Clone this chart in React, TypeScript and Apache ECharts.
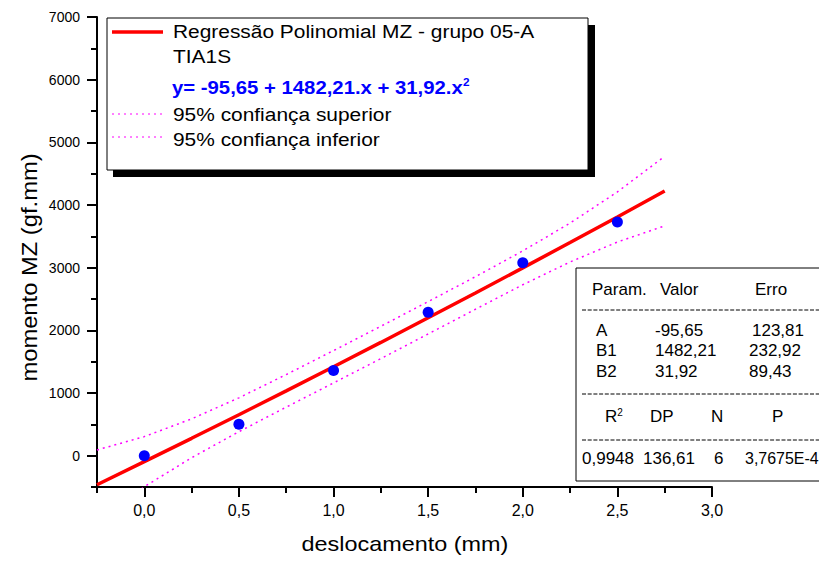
import React, { useEffect, useRef } from "react";
import * as echarts from "echarts";

// measured points
const xData = [0, 0.5, 1.0, 1.5, 2.0, 2.5];
const yData = [0, 500, 1360, 2290, 3080, 3730];
// regression curve and 95% confidence bands
const fitX = [-0.25, 0, 0.25, 0.5, 0.75, 1.0, 1.25, 1.5, 1.75, 2.0, 2.25, 2.5, 2.75];
const fitY = [-464, -96, 277, 653, 1034, 1419, 1807, 2200, 2596, 2997, 3401, 3809, 4222];
const upperY = [91, 304, 587, 923, 1294, 1677, 2065, 2458, 2856, 3267, 3711, 4209, 4777];
const lowerY = [-1019, -496, -33, 383, 774, 1161, 1549, 1942, 2336, 2727, 3091, 3409, 3667];
// ticks
const xMajorTicks = [0, 0.5, 1, 1.5, 2, 2.5, 3];
const yMajorTicks = [0, 1000, 2000, 3000, 4000, 5000, 6000, 7000];
// texts
const legendTitle = "Regressão Polinomial MZ - grupo 05-A";
const legendSub = "TIA1S";
const equation = "y= -95,65 + 1482,21.x + 31,92.x";
const upperName = "95% confiança superior";
const lowerName = "95% confiança inferior";
const tableHeader = ["Param.", "Valor", "Erro"];
const paramNames = ["A", "B1", "B2"];
const paramValues = ["-95,65", "1482,21", "31,92"];
const paramErrors = ["123,81", "232,92", "89,43"];
const statHeader = ["DP", "N", "P"];
const statValues = ["0,9948", "136,61", "6", "3,7675E-4"];

const FONT = "'Liberation Sans', Arial, Helvetica, sans-serif";

function txt(
  text: string,
  x: number,
  y: number,
  size: number,
  extra: any = {},
  styleExtra: any = {}
) {
  return {
    type: "text",
    x,
    y,
    z: 100,
    ...extra,
    style: {
      text,
      fill: "#000",
      fontSize: size,
      fontFamily: FONT,
      align: "left",
      verticalAlign: "middle",
      textAlign: "left",
      textVerticalAlign: "middle",
      ...styleExtra,
    },
  };
}

export default function App() {
  const ref = useRef<HTMLDivElement>(null);
  useEffect(() => {
    if (!ref.current) return;
    const chart = echarts.init(ref.current, undefined, { renderer: "svg" });
    const fmt = (v: number) => v.toFixed(1).replace(".", ",");
    const pairs = (xs: number[], ys: number[]) => xs.map((x, i) => [x, ys[i]]);

    const tableRows = [330, 350.7, 371];
    const dotted = { stroke: "#ff00ff", lineWidth: 1.2, lineDash: [2, 4] };
    const graphic: any[] = [
      // legend box shadow + box
      { type: "rect", z: 99, shape: { x: 113, y: 25, width: 482, height: 152 }, style: { fill: "#000" } },
      { type: "rect", z: 99, shape: { x: 107, y: 18, width: 481, height: 152 }, style: { fill: "#fff", stroke: "#000", lineWidth: 1 } },
      { type: "line", z: 100, shape: { x1: 112, y1: 32, x2: 163, y2: 32 }, style: { stroke: "#ff0000", lineWidth: 3.5 } },
      txt(legendTitle, 173, 31.5, 19, { scaleX: 1.1 }),
      txt(legendSub, 173, 56.5, 19, { scaleX: 1.1 }),
      txt(equation + "{s|2}", 172, 87.5, 19, { scaleX: 1.07 }, {
        fill: "#0000ff",
        fontWeight: "bold",
        rich: { s: { fontSize: 11, fontWeight: "bold", fill: "#0000ff", fontFamily: FONT, verticalAlign: "top", padding: [0, 0, 10, 0] } },
      }),
      { type: "line", z: 100, shape: { x1: 112, y1: 114, x2: 162, y2: 114 }, style: dotted },
      txt(upperName, 173, 114, 19, { scaleX: 1.1 }),
      { type: "line", z: 100, shape: { x1: 112, y1: 137, x2: 162, y2: 137 }, style: dotted },
      txt(lowerName, 173, 139, 19, { scaleX: 1.1 }),
      // stats table
      { type: "rect", z: 99, shape: { x: 576, y: 268, width: 300, height: 213 }, style: { fill: "#fff", stroke: "#000", lineWidth: 1 } },
      txt(tableHeader[0], 592, 289, 17),
      txt(tableHeader[1], 660, 289, 17),
      txt(tableHeader[2], 755, 289, 17),
      { type: "line", z: 100, shape: { x1: 582, y1: 310, x2: 830, y2: 310 }, style: { stroke: "#000", lineWidth: 1, lineDash: [4, 1.7] } },
      ...paramNames.map((n, i) => txt(n, 596, tableRows[i], 17)),
      ...paramValues.map((n, i) => txt(n, 655, tableRows[i], 17)),
      ...paramErrors.map((n, i) => txt(n, i === 0 ? 752 : 749, tableRows[i], 17)),
      { type: "line", z: 100, shape: { x1: 582, y1: 394, x2: 830, y2: 394 }, style: { stroke: "#000", lineWidth: 1, lineDash: [4, 1.7] } },
      txt("R{s|2}", 605, 416, 17, {}, { rich: { s: { fontSize: 10, fontFamily: FONT, verticalAlign: "top", padding: [0, 0, 8, 0] } } }),
      txt(statHeader[0], 650, 416, 17),
      txt(statHeader[1], 711, 416, 17),
      txt(statHeader[2], 772, 416, 17),
      { type: "line", z: 100, shape: { x1: 582, y1: 440, x2: 830, y2: 440 }, style: { stroke: "#000", lineWidth: 1, lineDash: [4, 1.7] } },
      txt(statValues[0], 582, 458, 17),
      txt(statValues[1], 643, 458, 17),
      txt(statValues[2], 714, 458, 17),
      txt(statValues[3], 745, 458, 17, { scaleX: 0.94 }),
      // axis titles
      txt("deslocamento (mm)", 405, 544, 21, { scaleX: 1.115 }, { align: "center", textAlign: "center" }),
      txt("momento MZ (gf.mm)", 29, 267.5, 22, { scaleX: 1.08, rotation: Math.PI / 2 }, { align: "center", textAlign: "center" }),
    ];

    const axisLine = { show: true, onZero: false, lineStyle: { color: "#000", width: 2 } };
    const noLine = { show: false, onZero: false };
    chart.setOption({
      animation: false,
      backgroundColor: "#fff",
      grid: { left: 97, top: 17, width: 615, height: 470, containLabel: false },
      xAxis: [
        {
          type: "value",
          position: "bottom",
          min: -0.25,
          max: 3,
          axisLine,
          axisTick: { show: true, length: 10, inside: false, customValues: xMajorTicks, lineStyle: { color: "#000", width: 2 } },
          axisLabel: { show: true, customValues: xMajorTicks, formatter: fmt, margin: 15, fontSize: 16, color: "#000", fontFamily: FONT },
          splitLine: { show: false },
        },
        {
          type: "value",
          position: "bottom",
          min: -0.25,
          max: 3,
          interval: 0.25,
          axisLine: noLine,
          axisTick: { show: true, length: 6, lineStyle: { color: "#000", width: 2 } },
          axisLabel: { show: false },
          splitLine: { show: false },
        },
      ],
      yAxis: [
        {
          type: "value",
          position: "left",
          min: -500,
          max: 7000,
          axisLine,
          axisTick: { show: true, length: 10, customValues: yMajorTicks, lineStyle: { color: "#000", width: 2 } },
          axisLabel: { show: true, customValues: yMajorTicks, formatter: (v: number) => String(v), margin: 17, fontSize: 14, color: "#000", fontFamily: FONT },
          splitLine: { show: false },
        },
        {
          type: "value",
          position: "left",
          min: -500,
          max: 7000,
          interval: 500,
          axisLine: noLine,
          axisTick: { show: true, length: 6, lineStyle: { color: "#000", width: 2 } },
          axisLabel: { show: false },
          splitLine: { show: false },
        },
      ],
      series: [
        {
          name: upperName,
          type: "line",
          data: pairs(fitX, upperY),
          showSymbol: false,
          symbol: "none",
          clip: true,
          lineStyle: { color: "#ff00ff", width: 1.5, type: [2, 4] },
          z: 2,
        },
        {
          name: lowerName,
          type: "line",
          data: pairs(fitX, lowerY),
          showSymbol: false,
          symbol: "none",
          clip: true,
          lineStyle: { color: "#ff00ff", width: 1.5, type: [2, 4] },
          z: 2,
        },
        {
          name: legendTitle,
          type: "line",
          data: pairs(fitX, fitY),
          showSymbol: false,
          symbol: "none",
          clip: true,
          lineStyle: { color: "#ff0000", width: 3.5 },
          z: 3,
        },
        {
          name: legendSub,
          type: "scatter",
          data: pairs(xData, yData),
          symbol: "circle",
          symbolSize: 11,
          itemStyle: { color: "#0000ff", opacity: 1 },
          z: 4,
        },
      ],
      graphic,
    });
    return () => chart.dispose();
  }, []);
  return <div ref={ref} style={{ width: 819, height: 561, position: "absolute", left: 0, top: 0 }} />;
}
